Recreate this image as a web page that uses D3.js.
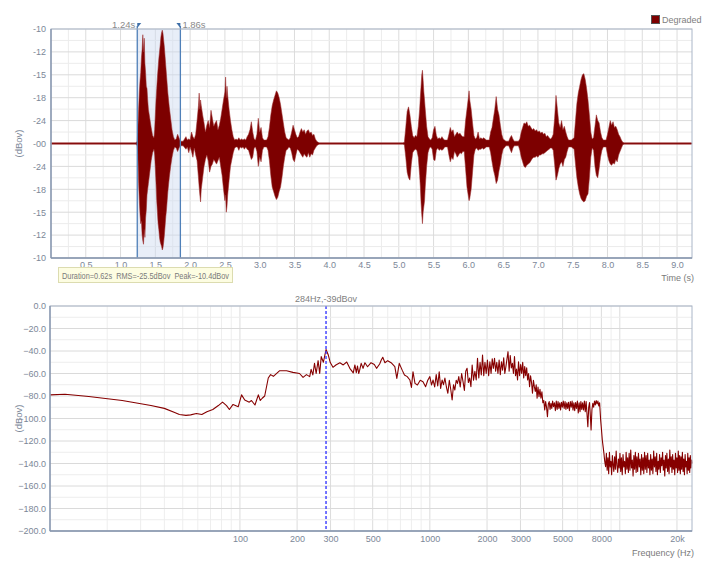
<!DOCTYPE html>
<html><head><meta charset="utf-8">
<script src="https://cdn.jsdelivr.net/npm/d3@7"></script>
<style>
body{margin:0;background:#fff}
svg text{font-family:"Liberation Sans",Arial,sans-serif}
</style></head>
<body><svg id="c" width="720" height="568"></svg>
<script>
// ---------- DATA ----------
const seriesName = "Degraded";
// Waveform envelope (normalised amplitude, 1 = -10 dBov full axis)
const waveTime = [
 0, 1.22, 1.24, 1.25, 1.26, 1.27, 1.28, 1.29, 1.30, 1.31,
 1.32, 1.33, 1.34, 1.35, 1.36, 1.37, 1.38, 1.39, 1.40, 1.42,
 1.44, 1.46, 1.48, 1.49, 1.50, 1.51, 1.52, 1.53, 1.54, 1.55,
 1.56, 1.57, 1.58, 1.59, 1.60, 1.61, 1.62, 1.63, 1.64, 1.65,
 1.66, 1.67, 1.68, 1.70, 1.72, 1.74, 1.76, 1.78, 1.80, 1.82,
 1.84, 1.86, 1.90, 1.94, 1.96, 1.98, 2.00, 2.02, 2.04, 2.06,
 2.08, 2.10, 2.12, 2.13, 2.14, 2.15, 2.16, 2.18, 2.20, 2.22,
 2.24, 2.26, 2.28, 2.30, 2.32, 2.34, 2.36, 2.38, 2.40, 2.42,
 2.44, 2.46, 2.48, 2.50, 2.51, 2.52, 2.53, 2.54, 2.56, 2.58,
 2.60, 2.62, 2.64, 2.66, 2.68, 2.70, 2.72, 2.74, 2.76, 2.78,
 2.80, 2.82, 2.84, 2.86, 2.88, 2.90, 2.92, 2.94, 2.96, 2.98,
 3.00, 3.02, 3.04, 3.06, 3.10, 3.12, 3.14, 3.16, 3.18, 3.20,
 3.22, 3.24, 3.26, 3.28, 3.30, 3.32, 3.34, 3.36, 3.38, 3.40,
 3.42, 3.44, 3.46, 3.48, 3.50, 3.52, 3.54, 3.56, 3.58, 3.60,
 3.62, 3.64, 3.66, 3.68, 3.70, 3.72, 3.74, 3.76, 3.78, 3.80,
 3.82, 3.84, 3.86, 5.06, 5.08, 5.10, 5.12, 5.14, 5.16, 5.18,
 5.20, 5.22, 5.24, 5.26, 5.28, 5.30, 5.31, 5.32, 5.33, 5.34,
 5.35, 5.36, 5.37, 5.38, 5.40, 5.42, 5.44, 5.46, 5.48, 5.50,
 5.52, 5.54, 5.56, 5.58, 5.60, 5.62, 5.64, 5.66, 5.70, 5.72,
 5.74, 5.76, 5.78, 5.80, 5.82, 5.84, 5.86, 5.88, 5.90, 5.92,
 5.94, 5.96, 5.98, 6.00, 6.01, 6.02, 6.04, 6.06, 6.08, 6.10,
 6.12, 6.14, 6.16, 6.18, 6.20, 6.22, 6.24, 6.26, 6.30, 6.32,
 6.34, 6.36, 6.38, 6.40, 6.42, 6.44, 6.46, 6.48, 6.50, 6.54,
 6.58, 6.60, 6.62, 6.64, 6.66, 6.72, 6.74, 6.76, 6.78, 6.80,
 6.82, 6.84, 6.86, 6.88, 6.90, 6.92, 6.94, 6.96, 6.98, 7.00,
 7.02, 7.04, 7.06, 7.08, 7.10, 7.12, 7.14, 7.16, 7.18, 7.20,
 7.22, 7.24, 7.26, 7.28, 7.30, 7.32, 7.34, 7.36, 7.38, 7.40,
 7.42, 7.44, 7.48, 7.52, 7.54, 7.56, 7.58, 7.60, 7.62, 7.64,
 7.66, 7.68, 7.70, 7.72, 7.74, 7.76, 7.78, 7.80, 7.82, 7.84,
 7.86, 7.88, 7.90, 7.92, 7.94, 7.98, 8.00, 8.02, 8.04, 8.06,
 8.08, 8.10, 8.12, 8.14, 8.16, 8.18, 8.20, 8.22, 8.24, 9.21
];
const waveUpper = [
 0.006, 0.006, 0.02, 0.15, 0.30, 0.45, 0.55, 0.62, 0.75, 0.82,
 0.95, 0.80, 0.92, 0.70, 0.62, 0.50, 0.48, 0.38, 0.30, 0.22,
 0.14, 0.07, 0.05, 0.12, 0.25, 0.38, 0.48, 0.58, 0.66, 0.74,
 0.80, 0.86, 0.93, 0.97, 0.99, 0.96, 0.90, 0.84, 0.76, 0.68,
 0.60, 0.52, 0.44, 0.32, 0.22, 0.12, 0.06, 0.03, 0.04, 0.08,
 0.05, 0.02, 0.02, 0.06, 0.03, 0.04, 0.03, 0.10, 0.06, 0.04,
 0.08, 0.20, 0.33, 0.44, 0.30, 0.38, 0.33, 0.25, 0.18, 0.10,
 0.16, 0.20, 0.14, 0.29, 0.22, 0.15, 0.18, 0.20, 0.12, 0.16,
 0.22, 0.30, 0.38, 0.45, 0.58, 0.40, 0.50, 0.42, 0.30, 0.20,
 0.12, 0.06, 0.03, 0.04, 0.03, 0.05, 0.03, 0.04, 0.03, 0.04,
 0.03, 0.06, 0.08, 0.12, 0.19, 0.10, 0.04, 0.03, 0.08, 0.22,
 0.10, 0.14, 0.05, 0.03, 0.03, 0.06, 0.14, 0.25, 0.33, 0.38,
 0.42, 0.46, 0.44, 0.40, 0.34, 0.26, 0.18, 0.10, 0.05, 0.04,
 0.03, 0.05, 0.10, 0.16, 0.12, 0.08, 0.05, 0.06, 0.10, 0.13,
 0.10, 0.12, 0.08, 0.11, 0.12, 0.09, 0.10, 0.07, 0.08, 0.04,
 0.02, 0.01, 0.006, 0.006, 0.01, 0.14, 0.28, 0.32, 0.25, 0.15,
 0.07, 0.05, 0.07, 0.06, 0.15, 0.30, 0.41, 0.50, 0.60, 0.64,
 0.55, 0.45, 0.38, 0.30, 0.15, 0.06, 0.04, 0.03, 0.05, 0.12,
 0.15, 0.07, 0.04, 0.05, 0.04, 0.06, 0.04, 0.03, 0.03, 0.08,
 0.14, 0.10, 0.12, 0.06, 0.08, 0.10, 0.08, 0.09, 0.07, 0.06,
 0.06, 0.20, 0.30, 0.40, 0.46, 0.38, 0.30, 0.18, 0.07, 0.04,
 0.05, 0.10, 0.04, 0.05, 0.04, 0.05, 0.04, 0.03, 0.03, 0.10,
 0.14, 0.22, 0.30, 0.41, 0.30, 0.25, 0.16, 0.08, 0.04, 0.02,
 0.02, 0.05, 0.07, 0.04, 0.02, 0.02, 0.04, 0.10, 0.14, 0.18,
 0.17, 0.19, 0.15, 0.16, 0.14, 0.12, 0.13, 0.11, 0.12, 0.10,
 0.11, 0.09, 0.10, 0.08, 0.09, 0.06, 0.07, 0.05, 0.04, 0.05,
 0.08, 0.22, 0.42, 0.30, 0.18, 0.14, 0.20, 0.12, 0.15, 0.10,
 0.06, 0.03, 0.03, 0.05, 0.20, 0.35, 0.44, 0.50, 0.56, 0.60,
 0.61, 0.56, 0.48, 0.38, 0.25, 0.10, 0.04, 0.05, 0.15, 0.25,
 0.20, 0.18, 0.10, 0.05, 0.03, 0.03, 0.08, 0.14, 0.20, 0.16,
 0.19, 0.14, 0.15, 0.12, 0.08, 0.06, 0.03, 0.01, 0.006, 0.006
];
const waveLower = [
 0.006, 0.006, 0.02, 0.12, 0.35, 0.50, 0.62, 0.70, 0.68, 0.80,
 0.85, 0.88, 0.75, 0.82, 0.65, 0.58, 0.45, 0.40, 0.35, 0.25,
 0.15, 0.08, 0.05, 0.10, 0.22, 0.35, 0.50, 0.60, 0.70, 0.75,
 0.82, 0.86, 0.88, 0.90, 0.93, 0.91, 0.86, 0.80, 0.72, 0.64,
 0.58, 0.50, 0.42, 0.30, 0.20, 0.12, 0.06, 0.03, 0.04, 0.07,
 0.04, 0.02, 0.02, 0.05, 0.03, 0.08, 0.03, 0.07, 0.12, 0.04,
 0.10, 0.15, 0.30, 0.38, 0.45, 0.51, 0.40, 0.30, 0.20, 0.14,
 0.10, 0.15, 0.25, 0.20, 0.18, 0.14, 0.16, 0.18, 0.15, 0.12,
 0.20, 0.28, 0.40, 0.50, 0.45, 0.60, 0.55, 0.45, 0.32, 0.20,
 0.14, 0.08, 0.04, 0.03, 0.03, 0.06, 0.03, 0.04, 0.03, 0.05,
 0.03, 0.05, 0.06, 0.10, 0.14, 0.12, 0.04, 0.03, 0.07, 0.20,
 0.12, 0.16, 0.06, 0.03, 0.03, 0.06, 0.15, 0.28, 0.38, 0.42,
 0.46, 0.49, 0.47, 0.42, 0.38, 0.30, 0.20, 0.12, 0.06, 0.05,
 0.03, 0.04, 0.08, 0.14, 0.16, 0.10, 0.05, 0.06, 0.08, 0.10,
 0.12, 0.09, 0.11, 0.12, 0.08, 0.12, 0.09, 0.10, 0.06, 0.04,
 0.02, 0.01, 0.006, 0.006, 0.01, 0.12, 0.25, 0.30, 0.32, 0.18,
 0.08, 0.06, 0.05, 0.06, 0.12, 0.28, 0.38, 0.52, 0.62, 0.70,
 0.60, 0.55, 0.50, 0.38, 0.20, 0.08, 0.04, 0.03, 0.05, 0.14,
 0.15, 0.06, 0.04, 0.06, 0.05, 0.06, 0.05, 0.03, 0.03, 0.10,
 0.16, 0.12, 0.14, 0.07, 0.09, 0.12, 0.10, 0.08, 0.09, 0.07,
 0.07, 0.22, 0.38, 0.46, 0.50, 0.48, 0.40, 0.25, 0.10, 0.05,
 0.04, 0.06, 0.05, 0.05, 0.04, 0.05, 0.04, 0.03, 0.03, 0.08,
 0.16, 0.23, 0.28, 0.35, 0.32, 0.24, 0.18, 0.10, 0.05, 0.02,
 0.02, 0.05, 0.08, 0.04, 0.02, 0.02, 0.06, 0.12, 0.16, 0.20,
 0.21, 0.19, 0.18, 0.17, 0.15, 0.13, 0.12, 0.12, 0.11, 0.12,
 0.10, 0.10, 0.09, 0.09, 0.08, 0.07, 0.06, 0.05, 0.04, 0.04,
 0.06, 0.18, 0.32, 0.28, 0.22, 0.18, 0.16, 0.20, 0.14, 0.12,
 0.07, 0.03, 0.03, 0.05, 0.18, 0.30, 0.38, 0.44, 0.48, 0.50,
 0.51, 0.50, 0.46, 0.44, 0.30, 0.12, 0.04, 0.06, 0.20, 0.28,
 0.30, 0.22, 0.12, 0.06, 0.03, 0.03, 0.10, 0.15, 0.18, 0.19,
 0.17, 0.18, 0.14, 0.16, 0.10, 0.07, 0.04, 0.01, 0.006, 0.006
];
const timeTicks = [0.5,1.0,1.5,2.0,2.5,3.0,3.5,4.0,4.5,5.0,5.5,6.0,6.5,7.0,7.5,8.0,8.5,9.0];
const ampTicks = [1, 0.8, 0.6, 0.4, 0.2, 0, -0.2, -0.4, -0.6, -0.8, -1];
const ampTickLabels = ["-10","-12","-15","-18","-24","-00","-24","-18","-15","-12","-10"];
const selection = [1.24, 1.86];
const selectionStats = "Duration=0.62s  RMS=-25.5dBov  Peak=-10.4dBov";

// Spectrum
const specHz = [
 10, 12, 16, 24, 34, 40, 45, 48, 52, 55,
 59, 63, 67, 72, 77, 81, 85, 88, 92, 98,
 102, 106, 112, 115, 120, 125, 128, 131, 135, 141,
 145, 150, 162, 176, 190, 206, 215, 224, 233, 237,
 242, 247, 252, 258, 263, 268, 275, 284, 292, 299,
 309, 320, 336, 350, 365, 379, 395, 403, 410, 416,
 422, 427, 435, 445, 455, 470, 490, 510, 524, 544,
 555, 565, 580, 600, 625, 654, 670, 690, 715, 735,
 760, 785, 800, 815, 835, 860, 890, 920, 950, 975,
 1000, 1020, 1040, 1060, 1080, 1100, 1120, 1140, 1160, 1180,
 1200, 1222, 1244, 1266, 1288, 1310, 1332, 1354, 1376, 1398,
 1420, 1445, 1470, 1495, 1520, 1545, 1570, 1595, 1620, 1645,
 1670, 1698, 1726, 1754, 1782, 1810, 1838, 1866, 1894, 1922,
 1950, 1980, 2010, 2040, 2070, 2100, 2130, 2160, 2190, 2220,
 2250, 2283, 2316, 2349, 2382, 2415, 2448, 2481, 2514, 2547,
 2580, 2615, 2650, 2685, 2720, 2755, 2790, 2825, 2860, 2895,
 2930, 2968, 3006, 3044, 3082, 3120, 3158, 3196, 3234, 3272,
 3310, 3350, 3390, 3430, 3470, 3510, 3550, 3590, 3630, 3670,
 3710, 3755, 3800, 3845, 3890, 3935, 3980, 4025, 4070, 4115,
 4160, 4205, 4250, 4295, 4340, 4385, 4430, 4480, 4530, 4580,
 4630, 4680, 4730, 4780, 4830, 4880, 4930, 4985, 5040, 5095,
 5150, 5205, 5260, 5315, 5370, 5430, 5490, 5550, 5610, 5670,
 5730, 5790, 5850, 5915, 5980, 6045, 6110, 6175, 6240, 6305,
 6370, 6440, 6510, 6580, 6650, 6720, 6790, 6860, 6930, 7000,
 7060, 7135, 7210, 7285, 7360, 7435, 7510, 7590, 7670, 7750,
 7830, 7930, 8010, 8090, 8170, 8250, 8330, 8420,
 8500, 8580, 8660, 8740, 8820, 8900, 8980, 9060, 9140, 9220,
 9300, 9390, 9480, 9570, 9660, 9750, 9840, 9930, 10020, 10110,
 10200, 10300, 10400, 10500, 10600, 10700, 10800, 10900, 11000, 11100,
 11200, 11310, 11420, 11530, 11640, 11750, 11860, 11970, 12080, 12190,
 12300, 12420, 12540, 12660, 12780, 12900, 13020, 13140, 13260, 13380,
 13500, 13630, 13760, 13890, 14020, 14150, 14280, 14410, 14540, 14670,
 14800, 14940, 15080, 15220, 15360, 15500, 15640, 15780, 15920, 16060,
 16200, 16350, 16500, 16650, 16800, 16950, 17100, 17250, 17400, 17550,
 17700, 17860, 18020, 18180, 18340, 18500, 18660, 18820, 18980, 19140,
 19300, 19470, 19640, 19810, 19980, 20150, 20320, 20490, 20660, 20830,
 21000, 21180, 21360, 21540, 21720, 21900, 22080, 22260, 22440, 22620,
 22800, 22980, 23160, 23340, 23520, 23700, 23880, 24000
];
const specDb = [
 -79, -78.5, -80.5, -84, -88.5, -91, -94.5, -96.5, -97.2, -96.8,
 -95.5, -96.5, -94, -92, -88.5, -85.5, -88.5, -92, -87.5, -89.5,
 -79, -83.5, -85.5, -84, -88, -79, -84, -82, -80, -64,
 -61, -62.5, -57.5, -57.5, -59, -60, -63.4, -61, -62.8, -56.3,
 -61.3, -51, -60, -48.6, -60, -45, -50, -38.7, -43.6, -50.3,
 -54.5, -52.4, -50.4, -52.4, -49.8, -55.4, -59.5, -52.4, -59.3, -53.3,
 -60, -57, -51, -55.4, -50.4, -54, -50.4, -52, -55.4, -51.6,
 -48, -45.6, -50.4, -48.6, -50.4, -53.9, -64.3, -51, -57, -61.3,
 -62.8, -65.8, -72.3, -58.4, -68.8, -70.2, -66, -67.3, -71.7, -66,
 -62.8, -70.2, -65.8, -72, -61, -71, -58.4, -73.2, -65.8, -70,
 -64, -72, -77.6, -66, -74, -83.6, -70, -74.7, -66, -68.8,
 -62.8, -72, -60, -67.3, -75, -58, -55.4, -68, -64, -71.7,
 -52.4, -66, -58, -65.8, -46.5, -64, -50, -61.3, -43.6, -62,
 -50, -59.9, -48, -62, -49.5, -60, -47, -55.4, -46.5, -58,
 -50, -59.9, -48, -61, -49.5, -57, -46, -60, -53.9, -47,
 -40.6, -58, -44, -55, -51, -60, -45, -62, -56, -65.8,
 -49.5, -62, -52, -59.9, -50, -64, -53.9, -62, -55, -65.8,
 -60, -71.7, -62, -68, -77.6, -66, -71.7, -76, -70, -82,
 -72, -80.6, -74, -82, -76.2, -86, -84, -92.4, -85, -90,
 -98.4, -87, -85, -92, -86.5, -91, -84.5, -89.5, -86, -93,
 -84.5, -92, -85, -91, -86, -92.5, -85.5, -90, -84.5, -91,
 -85, -92, -86, -91, -85.5, -93, -85, -90, -84.5, -92.5,
 -86, -93, -85.9, -91, -84.5, -95, -86, -93.9, -85, -92,
 -86, -92.5, -84.5, -94, -85, -96, -107.3, -90, -85.9, -98,
 -110.2, -92, -86.5, -90, -84.5, -88, -84, -87, -84.5, -88.9,
 -86, -101.3, -110, -119.1, -125, -131, -138, -142.8,
 -131, -146, -135, -149, -130, -143, -138, -150, -133, -141,
 -147, -134, -145, -129, -142, -148, -136, -144, -131, -147,
 -135, -150, -132, -143, -138, -149, -130, -145, -135, -148,
 -131, -146, -128, -144, -137, -151, -133, -145, -130, -148,
 -134, -147, -131, -143, -136, -150, -132, -146, -135, -149,
 -130, -145, -133, -148, -131, -144, -137, -150, -132, -146,
 -136, -149, -129, -143, -134, -147, -131, -150, -138, -145,
 -132, -148, -135, -142, -130, -146, -137, -151, -133, -144,
 -131, -147, -136, -149, -128, -143, -134, -148, -132, -145,
 -137, -150, -131, -144, -135, -148, -129, -146, -133, -149,
 -134, -145, -130, -147, -136, -150, -132, -143, -138, -149,
 -131, -146, -135, -148, -133, -144, -137, -140
];
const freqTicks = [100, 200, 300, 500, 1000, 2000, 3000, 5000, 8000, 20000];
const freqTickLabels = ["100","200","300","500","1000","2000","3000","5000","8000","20k"];
const dbTicks = [0, -20, -40, -60, -80, -100, -120, -140, -160, -180, -200];
const peakMarker = {hz: 284, label: "284Hz,-39dBov"};

// ---------- DRAW ----------
const svg = d3.select("#c");
const RED = "#7d0000";
const TICK_COL = "#7c8798";
const FRAME = "#aab6c8";
const AXIS = "#8796ae";

// ===== Top: waveform =====
const xT = d3.scaleLinear().domain([0, 9.215]).range([51, 692]);
const yT = d3.scaleLinear().domain([-1, 1]).range([258, 29]);
const gT = svg.append("g");

const minorT = d3.range(1, 37).map(i => i * 0.25).filter(v => xT(v) < 691);
gT.selectAll(".vg").data(minorT).join("line")
  .attr("x1", d => xT(d)).attr("x2", d => xT(d)).attr("y1", 29).attr("y2", 258)
  .attr("stroke", (d) => (Math.abs(d*2 - Math.round(d*2)) < 1e-6) ? "#dcdcdc" : "#ececec");
const minorA = d3.range(-9, 10, 2).map(i => i / 10);
gT.selectAll(".hgm").data(minorA).join("line")
  .attr("x1", 51).attr("x2", 692).attr("y1", d => yT(d)).attr("y2", d => yT(d)).attr("stroke", "#ececec");
gT.selectAll(".hg").data(ampTicks).join("line")
  .attr("x1", 51).attr("x2", 692).attr("y1", d => yT(d)).attr("y2", d => yT(d)).attr("stroke", "#dadada");

gT.append("rect").attr("x", xT(selection[0])).attr("y", 29)
  .attr("width", xT(selection[1]) - xT(selection[0])).attr("height", 229)
  .attr("fill", "rgba(205,218,240,0.45)");

gT.append("line").attr("x1", 51).attr("x2", 692).attr("y1", yT(0)).attr("y2", yT(0))
  .attr("stroke", RED).attr("stroke-width", 1.2);

const wave = waveTime.map((t, i) => ({t, hi: waveUpper[i], lo: waveLower[i]}));
gT.append("path").datum(wave)
  .attr("d", d3.area().x(d => xT(d.t)).y0(d => yT(-d.lo)).y1(d => yT(d.hi)))
  .attr("fill", RED).attr("stroke", "#9a2a2a").attr("stroke-width", 0.9).attr("stroke-opacity", 0.6);

selection.forEach((s, i) => {
  const x = xT(s);
  gT.append("line").attr("x1", x).attr("x2", x).attr("y1", 26).attr("y2", 258)
    .attr("stroke", "#4f80b8").attr("stroke-width", 1.3);
  const p = i === 0 ? `M${x},23 L${x+4},23 L${x},28 Z` : `M${x},23 L${x-4},23 L${x},28 Z`;
  gT.append("path").attr("d", p).attr("fill", "#3f6fa8");
  gT.append("text").attr("x", i === 0 ? x - 2 : x + 2).attr("y", 28)
    .attr("text-anchor", i === 0 ? "end" : "start")
    .attr("font-size", 9.5).attr("fill", "#8a8a8a").text(s.toFixed(2) + "s");
});

gT.append("rect").attr("x", 51).attr("y", 29).attr("width", 641).attr("height", 229)
  .attr("fill", "none").attr("stroke", FRAME);
gT.append("line").attr("x1", 51).attr("x2", 51).attr("y1", 29).attr("y2", 258).attr("stroke", AXIS).attr("stroke-width", 1.4);
gT.append("line").attr("x1", 51).attr("x2", 692).attr("y1", 258).attr("y2", 258).attr("stroke", AXIS).attr("stroke-width", 1.4);

const axT = gT.append("g").attr("transform", "translate(0,258)")
  .call(d3.axisBottom(xT).tickValues(timeTicks).tickFormat(d3.format(".1f")).tickSize(0).tickPadding(4));
const ayT = gT.append("g").attr("transform", "translate(51,0)")
  .call(d3.axisLeft(yT).tickValues(ampTicks).tickFormat((d, i) => ampTickLabels[i]).tickSize(0).tickPadding(5));
[axT, ayT].forEach(a => {
  a.select(".domain").remove();
  a.selectAll("text").attr("fill", TICK_COL).attr("font-size", 9).attr("font-family", "'Liberation Sans',Arial,sans-serif");
});
gT.append("text").attr("transform", `translate(22,${yT(0)}) rotate(-90)`).attr("text-anchor", "middle")
  .attr("font-size", 9.5).attr("fill", TICK_COL).text("(dBov)");
gT.append("text").attr("x", 694).attr("y", 281).attr("text-anchor", "end")
  .attr("font-size", 9).attr("fill", "#7a7a7a").text("Time (s)");

gT.append("rect").attr("x", 58.5).attr("y", 267.5).attr("width", 174).attr("height", 15)
  .attr("fill", "#fdfde2").attr("stroke", "#dcdcb0");
gT.append("text").attr("x", 62).attr("y", 279).attr("font-size", 9).attr("fill", "#7a7a7a")
  .attr("textLength", 167).attr("lengthAdjust", "spacingAndGlyphs")
  .style("white-space", "pre").text(selectionStats);

svg.append("rect").attr("x", 651.5).attr("y", 15.5).attr("width", 8).attr("height", 8)
  .attr("fill", RED).attr("stroke", "#555");
svg.append("text").attr("x", 662).attr("y", 23).attr("font-size", 9).attr("fill", "#808080").text(seriesName);

// ===== Bottom: spectrum =====
const xF = d3.scaleLog().domain([10, 24000]).range([50, 692]);
const yF = d3.scaleLinear().domain([-200, 0]).range([531, 306]);
const gB = svg.append("g");

const logGrid = [];
[10, 100, 1000, 10000].forEach(dec => { for (let k = 1; k <= 9; k++) { const f = k * dec; if (f > 10 && f < 24000) logGrid.push(f); } });
gB.selectAll(".vg").data(logGrid).join("line")
  .attr("x1", d => xF(d)).attr("x2", d => xF(d)).attr("y1", 306).attr("y2", 531)
  .attr("stroke", d => (freqTicks.includes(d) || [100, 1000, 10000].includes(d)) ? "#dcdcdc" : "#eeeeee");
const minorDb = d3.range(-190, 0, 20);
gB.selectAll(".hgm").data(minorDb).join("line")
  .attr("x1", 50).attr("x2", 692).attr("y1", d => yF(d)).attr("y2", d => yF(d)).attr("stroke", "#ededed");
gB.selectAll(".hg").data(dbTicks).join("line")
  .attr("x1", 50).attr("x2", 692).attr("y1", d => yF(d)).attr("y2", d => yF(d)).attr("stroke", "#dadada");

const spec = specHz.map((h, i) => ({h, d: specDb[i]}));
gB.append("path").datum(spec)
  .attr("d", d3.line().x(d => xF(d.h)).y(d => yF(d.d)))
  .attr("fill", "none").attr("stroke", "#860000").attr("stroke-width", 1.1).attr("stroke-linejoin", "round");

const px = xF(peakMarker.hz);
gB.append("line").attr("x1", px).attr("x2", px).attr("y1", 306).attr("y2", 531)
  .attr("stroke", "#3a3aff").attr("stroke-width", 1.4).attr("stroke-dasharray", "3,2");
gB.append("text").attr("x", px).attr("y", 302).attr("text-anchor", "middle")
  .attr("font-size", 9).attr("fill", "#808080").text(peakMarker.label);

gB.append("rect").attr("x", 50).attr("y", 306).attr("width", 642).attr("height", 225)
  .attr("fill", "none").attr("stroke", FRAME);
gB.append("line").attr("x1", 50).attr("x2", 50).attr("y1", 306).attr("y2", 531).attr("stroke", AXIS).attr("stroke-width", 1.4);
gB.append("line").attr("x1", 50).attr("x2", 692).attr("y1", 531).attr("y2", 531).attr("stroke", AXIS).attr("stroke-width", 1.4);

const axB = gB.append("g").attr("transform", "translate(0,531)")
  .call(d3.axisBottom(xF).tickValues(freqTicks).tickFormat((d, i) => freqTickLabels[i]).tickSize(0).tickPadding(5));
const ayB = gB.append("g").attr("transform", "translate(50,0)")
  .call(d3.axisLeft(yF).tickValues(dbTicks).tickFormat(d3.format(".1f")).tickSize(0).tickPadding(4));
[axB, ayB].forEach(a => {
  a.select(".domain").remove();
  a.selectAll("text").attr("fill", TICK_COL).attr("font-size", 9).attr("font-family", "'Liberation Sans',Arial,sans-serif");
});
gB.append("text").attr("transform", `translate(22,${yF(-100)}) rotate(-90)`).attr("text-anchor", "middle")
  .attr("font-size", 9.5).attr("fill", TICK_COL).text("(dBov)");
gB.append("text").attr("x", 694).attr("y", 556).attr("text-anchor", "end")
  .attr("font-size", 9).attr("fill", "#7a7a7a").text("Frequency (Hz)");
</script>
</body></html>
